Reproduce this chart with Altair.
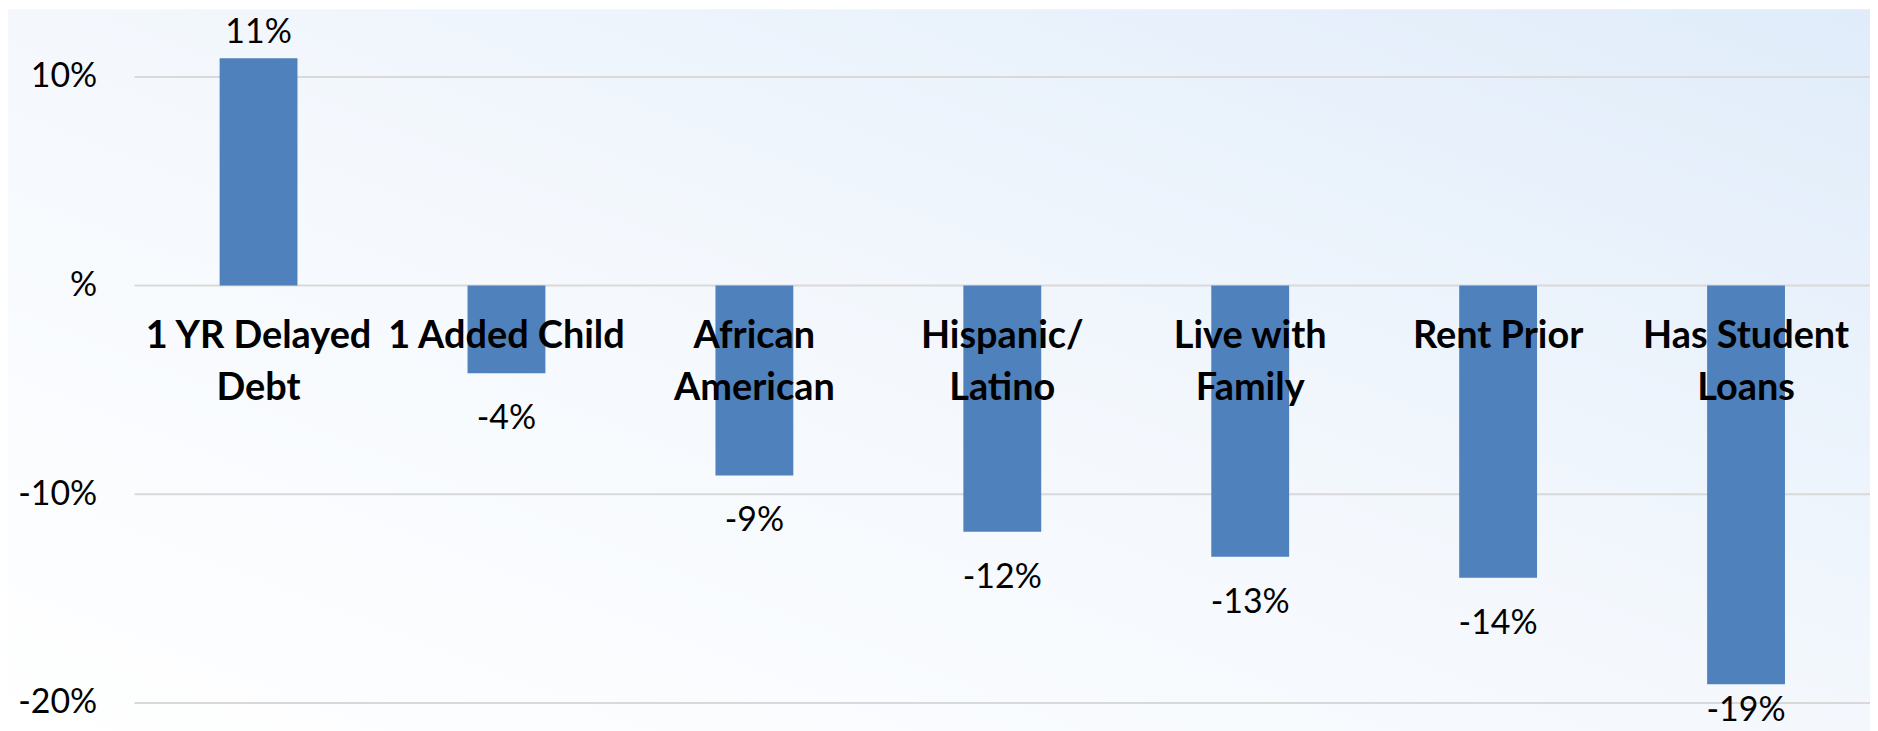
import altair as alt
import pandas as pd

# ---- data ----
categories = ["1 YR Delayed Debt", "1 Added Child", "African American",
              "Hispanic/ Latino", "Live with Family", "Rent Prior",
              "Has Student Loans"]
category_lines = ["1 YR Delayed\nDebt", "1 Added Child", "African\nAmerican",
                  "Hispanic/\nLatino", "Live with\nFamily", "Rent Prior",
                  "Has Student\nLoans"]
values = [10.9, -4.2, -9.1, -11.8, -13.0, -14.0, -19.1]
value_labels = ["11%", "-4%", "-9%", "-12%", "-13%", "-14%", "-19%"]
y_ticks = [-20, -10, 0, 10]

df = pd.DataFrame({
    "category": categories,
    "lines": category_lines,
    "value": values,
    "label": value_labels,
})

W, H = 1741, 628
PAD_L, PAD_T = 127, 68
FONT = "Lato"
BAR = "#4f81bd"

x_enc = alt.X("category:N", sort=categories, axis=None,
              scale=alt.Scale(paddingInner=0.686, paddingOuter=0.343))
y_scale = alt.Scale(domain=[-20, 10], nice=False, zero=False)

bg = alt.Chart(pd.DataFrame({"k": [0]})).mark_rect(
    color=alt.LinearGradient(
        gradient="linear", x1=0, y1=1, x2=1, y2=0,
        stops=[alt.GradientStop(color="#ffffff", offset=0),
               alt.GradientStop(color="#f4f8fd", offset=0.5),
               alt.GradientStop(color="#e0ecfa", offset=1)]),
).encode(x=alt.value(-PAD_L), x2=alt.value(W + 10),
         y=alt.value(-PAD_T), y2=alt.value(H + 40))

grid = alt.Chart(pd.DataFrame({"t": y_ticks})).mark_rule(
    color="#d9d9d9", strokeWidth=2
).encode(y=alt.Y("t:Q", scale=y_scale,
                 axis=alt.Axis(values=y_ticks, grid=False, ticks=False, domain=False,
                               labelExpr="datum.value == 0 ? '%' : datum.value + '%'",
                               labelFont=FONT, labelFontSize=34, labelColor="#000000",
                               labelPadding=38, title=None, zindex=2)))

bars = alt.Chart(df).mark_bar(color=BAR, clip=False).encode(
    x=x_enc, y=alt.Y("value:Q", scale=y_scale), y2=alt.datum(0))

pos_labels = alt.Chart(df).transform_filter("datum.value > 0").mark_text(
    font=FONT, fontSize=34, color="#000000", baseline="alphabetic", dy=-15
).encode(x=x_enc, y=alt.Y("value:Q", scale=y_scale), text="label:N")

# labels below the negative bars; the lowest one is kept inside the picture
neg_labels = alt.Chart(df).transform_filter("datum.value < 0").transform_calculate(
    ly="max(datum.value - 2.68, -20.85)"
).mark_text(
    font=FONT, fontSize=34, color="#000000", baseline="alphabetic"
).encode(x=x_enc, y=alt.Y("ly:Q", scale=y_scale), text="label:N")

cat_labels = alt.Chart(df).transform_calculate(zero="0").mark_text(
    font=FONT, fontSize=38, fontWeight="bold", color="#000000",
    baseline="alphabetic", dy=63, lineBreak="\n", lineHeight=52
).encode(x=x_enc, y=alt.Y("zero:Q", scale=y_scale), text="lines:N")

chart = alt.layer(bg, grid, bars, cat_labels, pos_labels, neg_labels).properties(
    width=W, height=H,
    autosize=alt.AutoSizeParams(type="none"),
    padding={"left": PAD_L, "top": PAD_T, "right": 0, "bottom": 27},
    background="#ffffff",
).configure_view(stroke=None)

chart.save("out.html", embed_options={"renderer": "svg", "actions": False})
